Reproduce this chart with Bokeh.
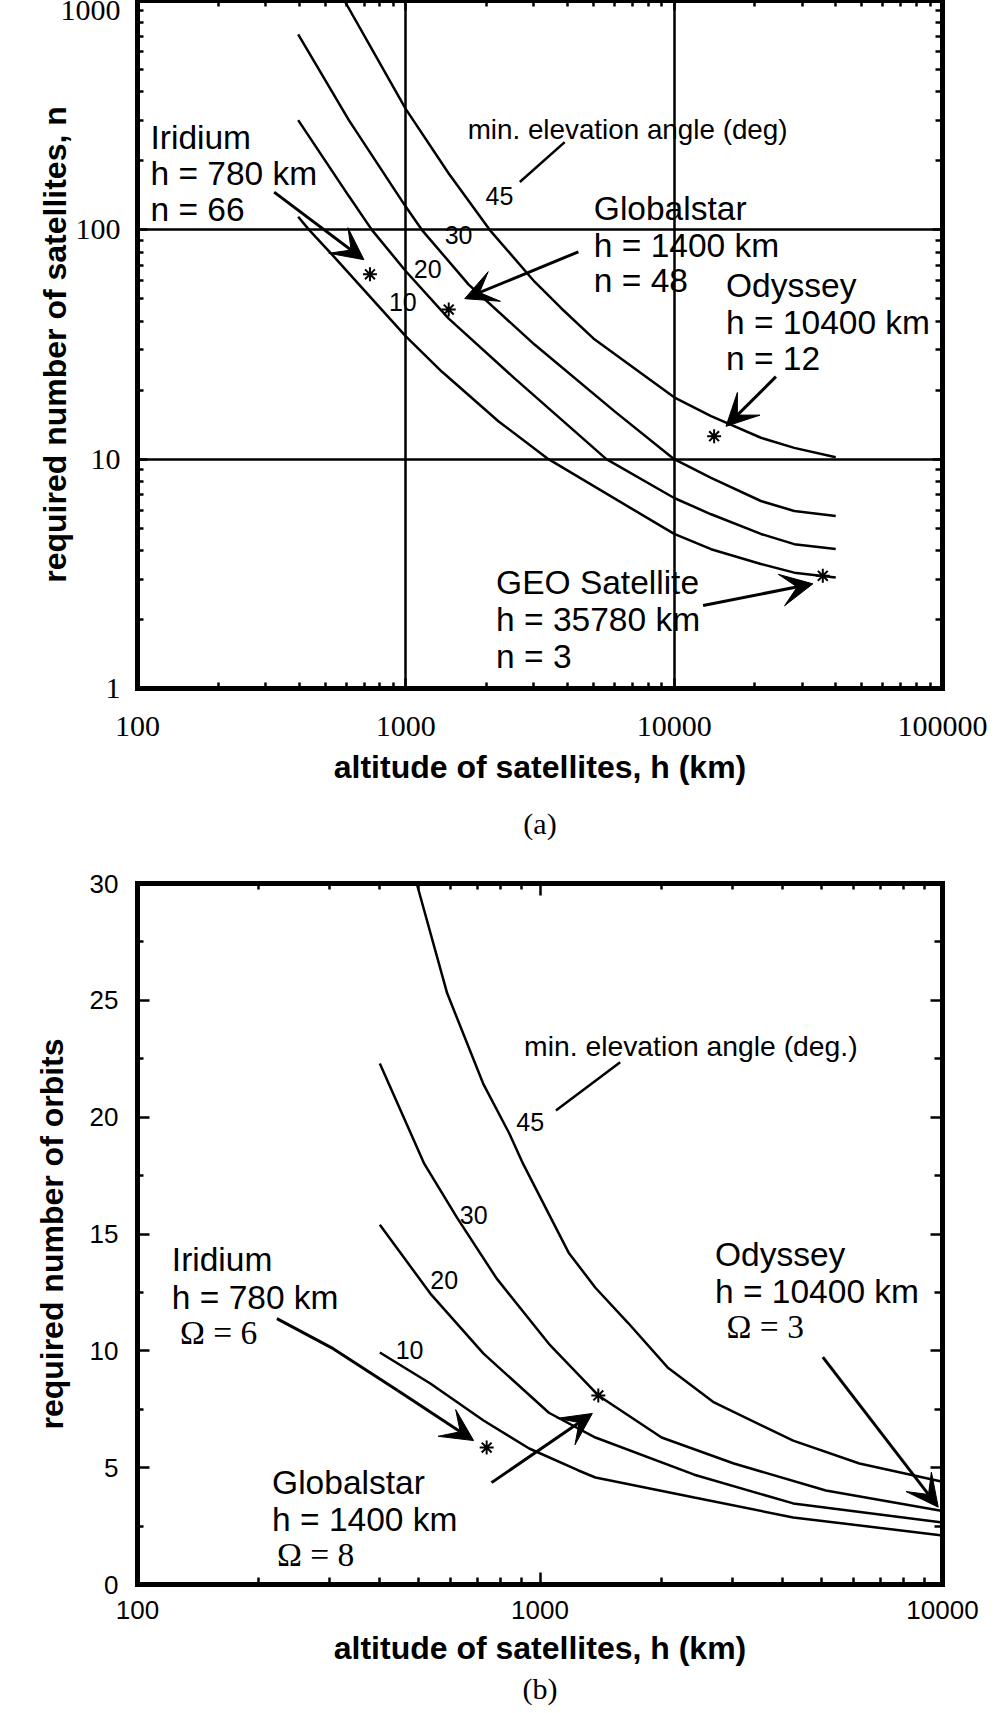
from bokeh.plotting import figure
from bokeh.layouts import column
from bokeh.models import FixedTicker, NumeralTickFormatter, LogAxis, LinearAxis, Arrow, VeeHead
from bokeh.core.properties import value
from bokeh.embed import file_html
from bokeh.resources import INLINE

# ---------------- Panel (a): required number of satellites (log-log) ----------------
a_x_ticks = [100, 1000, 10000, 100000]
a_x_minor = [m * d for d in (100, 1000, 10000) for m in range(2, 10)]
a_y_ticks = [1, 10, 100, 1000]
a_y_minor = [m * d for d in (1, 10, 100) for m in range(2, 10)]

a_h10 = [397, 436, 531, 1000, 1361, 2218, 3401, 10000, 13726, 21050, 28020, 40000]
a_n10 = [114, 100, 78, 34.3, 24.1, 14.6, 10, 4.72, 4.05, 3.49, 3.2, 3.05]
a_h20 = [397, 614, 747, 1000, 1445, 2543, 5590, 10000, 13726, 21050, 28020, 40000]
a_n20 = [301, 140, 100, 66, 41, 22.5, 10, 6.77, 5.75, 4.72, 4.26, 4.06]
a_h30 = [397, 614, 1000, 1147, 1715, 3018, 5984, 10000, 13726, 21050, 28020, 40000]
a_n30 = [711, 300, 126, 100, 57.7, 31.6, 16.2, 10, 8.29, 6.57, 5.94, 5.65]
a_h45 = [590, 1000, 1445, 2053, 3018, 3802, 5000, 10000, 13726, 21050, 28020, 40000]
a_n45 = [1000, 336, 176, 100, 59.4, 45.4, 33.6, 18.6, 15.4, 12.4, 11.2, 10.2]

a_elev_text = ["10", "20", "30", "45"]
a_elev_h = [865, 1071, 1396, 1983]
a_elev_n = [44.9, 62.5, 87.8, 129.7]

a_sat_h = [735, 1445, 14090, 35800]
a_sat_n = [64, 44.9, 12.6, 3.1]

a_names = ["Iridium", "Globalstar", "Odyssey", "GEO Satellite"]
a_alt_text = ["h = 780 km", "h = 1400 km", "h = 10400 km", "h = 35780 km"]
a_num_text = ["n = 66", "n = 48", "n = 12", "n = 3"]
a_block_h = [111.8, 5020, 15610, 2170]
a_name_n = [225.7, 110.5, 51.1, 2.59]
a_alt_n = [157.4, 76.3, 35.4, 1.79]
a_num_n = [110.2, 53.8, 24.6, 1.234]

a_arrow_h0 = [323, 4397, 23950, 12820]
a_arrow_n0 = [146, 80.2, 22.9, 2.30]
a_arrow_h1 = [698, 1657, 15600, 32880]
a_arrow_n1 = [74.1, 50.1, 13.9, 2.86]

a_lead_h = [3909, 2660]
a_lead_n = [241.4, 161.7]

# ---------------- Panel (b): required number of orbits (log-x) ----------------
b_x_ticks = [100, 1000, 10000]
b_x_minor = [m * d for d in (100, 1000) for m in range(2, 10)]
b_y_ticks = [0, 5, 10, 15, 20, 25, 30]
b_y_minor = [2.5, 7.5, 12.5, 17.5, 22.5, 27.5]

b_h10 = [400, 534, 724, 940, 1246, 1373, 2417, 4256, 10000]
b_v10 = [9.93, 8.6, 7.02, 5.82, 4.88, 4.58, 3.72, 2.87, 2.1]
b_h20 = [400, 534, 724, 1052, 1373, 2417, 4256, 10000]
b_v20 = [15.4, 12.45, 9.88, 7.35, 6.29, 4.7, 3.47, 2.65]
b_h30 = [400, 516, 622, 780, 1052, 1396, 2005, 3031, 5130, 10000]
b_v30 = [22.3, 18.0, 15.7, 13.1, 10.3, 8.09, 6.29, 5.18, 4.02, 3.15]
b_h45 = [494, 588, 724, 839, 908, 1178, 1373, 1654, 2075, 2706, 4256, 6217, 10000]
b_v45 = [30.0, 25.3, 21.4, 19.3, 18.0, 14.2, 12.7, 11.2, 9.29, 7.79, 6.16, 5.18, 4.4]

b_elev_text = ["10", "20", "30", "45"]
b_elev_h = [438, 534, 632, 873]
b_elev_v = [9.71, 12.71, 15.49, 19.43]

b_sat_h = [737, 1396]
b_sat_v = [5.86, 8.09]

b_names = ["Iridium", "Globalstar", "Odyssey"]
b_alt_text = ["h = 780 km", "h = 1400 km", "h = 10400 km"]
b_orb_text = ["\u03a9 = 6", "\u03a9 = 8", "\u03a9 = 3"]
b_block_h = [121.7, 216, 2722]
b_orb_h = [127.5, 222, 2908]
b_name_v = [13.44, 3.89, 13.65]
b_alt_v = [11.81, 2.31, 12.08]
b_orb_v = [10.31, 0.81, 10.57]

b_irid_path_h = [222, 303, 443, 684]
b_irid_path_v = [11.38, 10.14, 8.30, 6.16]
b_arrow_h0 = [758, 5043]
b_arrow_v0 = [4.36, 9.73]
b_arrow_h1 = [1349, 9759]
b_arrow_v1 = [7.32, 3.31]

b_lead_h = [1582, 1095]
b_lead_v = [22.35, 20.28]

SANS = "Liberation Sans"
SERIF = "Liberation Serif"


def style_axis(ax, major_in, minor_in, labels=True, font=SERIF, size="30px", standoff=18):
    ax.axis_line_width = 5
    ax.axis_line_color = "black"
    ax.axis_line_cap = "square"
    ax.major_tick_in = major_in
    ax.major_tick_out = 0
    ax.minor_tick_in = minor_in
    ax.minor_tick_out = 0
    ax.major_tick_line_width = 2.5
    ax.minor_tick_line_width = 2.5
    ax.major_tick_line_color = "black"
    ax.minor_tick_line_color = "black"
    if labels:
        ax.major_label_text_font = font
        ax.major_label_text_font_size = size
        ax.major_label_text_color = "black"
        ax.major_label_standoff = standoff
    else:
        ax.major_label_text_font_size = "1px"
        ax.major_label_text_alpha = 0.0
        ax.major_label_standoff = 0


def style_axis_label(ax, text, standoff):
    ax.axis_label = text
    ax.axis_label_text_font = SANS
    ax.axis_label_text_font_style = "bold"
    ax.axis_label_text_font_size = "32px"
    ax.axis_label_text_color = "black"
    ax.axis_label_standoff = standoff


def add_text(p, xs, ys, texts, size, font=SANS):
    p.text(x=xs, y=ys, text=texts, text_font=value(font), text_font_size=f"{size}px",
           text_align="left", text_baseline="alphabetic", text_color="black",
           y_offset=-round(0.33 * size))


def add_arrow(p, x0, y0, x1, y1, size=32):
    p.add_layout(Arrow(end=VeeHead(size=size, fill_color="black", line_color="black", line_width=1),
                       x_start=x0, y_start=y0, x_end=x1, y_end=y1,
                       line_width=3, line_color="black"))


def style_caption(p, text, standoff):
    p.title.text = text
    p.title.align = "center"
    p.title.text_font = SERIF
    p.title.text_font_size = "30px"
    p.title.text_font_style = "normal"
    p.title.text_color = "black"
    p.title.standoff = standoff


# ======================= figure (a) =======================
pa = figure(width=995, height=860, x_axis_type="log", y_axis_type="log",
            x_range=(100, 100000), y_range=(1, 1000), title_location="below",
            output_backend="svg", toolbar_location=None,
            min_border_left=135, min_border_right=53, min_border_top=0, min_border_bottom=172,
            background_fill_color="white", border_fill_color="white", outline_line_color=None)
style_caption(pa, "(a)", 34)

xa = pa.xaxis[0]
xa.ticker = FixedTicker(ticks=a_x_ticks, minor_ticks=a_x_minor)
xa.formatter = NumeralTickFormatter(format="0")
style_axis(xa, 10, 6, font=SERIF, size="30px", standoff=28)
style_axis_label(xa, "altitude of satellites, h (km)", 10)

ya = pa.yaxis[0]
ya.ticker = FixedTicker(ticks=a_y_ticks, minor_ticks=a_y_minor)
ya.formatter = NumeralTickFormatter(format="0")
style_axis(ya, 10, 6, font=SERIF, size="30px", standoff=17)
style_axis_label(ya, "required number of satellites, n", -15)

ta = LogAxis(ticker=FixedTicker(ticks=a_x_ticks, minor_ticks=a_x_minor))
style_axis(ta, 10, 6, labels=False)
pa.add_layout(ta, "above")
ra = LogAxis(ticker=FixedTicker(ticks=a_y_ticks, minor_ticks=a_y_minor))
style_axis(ra, 10, 7, labels=False)
pa.add_layout(ra, "right")

pa.xgrid.ticker = FixedTicker(ticks=a_x_ticks)
pa.ygrid.ticker = FixedTicker(ticks=a_y_ticks)
pa.grid.grid_line_color = "black"
pa.grid.grid_line_width = 2.5
pa.grid.grid_line_alpha = 1.0

for hs, ns in ((a_h10, a_n10), (a_h20, a_n20), (a_h30, a_n30), (a_h45, a_n45)):
    pa.line(hs, ns, line_color="black", line_width=2.5)

pa.line(a_lead_h, a_lead_n, line_color="black", line_width=2.5)
for i in range(len(a_arrow_h0)):
    add_arrow(pa, a_arrow_h0[i], a_arrow_n0[i], a_arrow_h1[i], a_arrow_n1[i])

pa.scatter(a_sat_h, a_sat_n, marker="asterisk", size=14, line_color="black", line_width=2)

add_text(pa, a_block_h, a_name_n, a_names, 33.5)
add_text(pa, a_block_h, a_alt_n, a_alt_text, 33.5)
add_text(pa, a_block_h, a_num_n, a_num_text, 33.5)
add_text(pa, a_elev_h, a_elev_n, a_elev_text, 25)
add_text(pa, [1700], [251], ["min. elevation angle (deg)"], 27.8)

# ======================= figure (b) =======================
pb = figure(width=995, height=853, x_axis_type="log",
            x_range=(100, 10000), y_range=(0, 30), title_location="below",
            output_backend="svg", toolbar_location=None,
            min_border_left=137, min_border_right=44, min_border_top=23, min_border_bottom=129,
            background_fill_color="white", border_fill_color="white", outline_line_color=None)
style_caption(pb, "(b)", 2)
pb.grid.visible = False

xb = pb.xaxis[0]
xb.ticker = FixedTicker(ticks=b_x_ticks, minor_ticks=b_x_minor)
xb.formatter = NumeralTickFormatter(format="0")
style_axis(xb, 12, 7, font=SANS, size="26px", standoff=16)
style_axis_label(xb, "altitude of satellites, h (km)", 8)

yb = pb.yaxis[0]
yb.ticker = FixedTicker(ticks=b_y_ticks, minor_ticks=b_y_minor)
style_axis(yb, 12, 6, font=SANS, size="26px", standoff=19)
style_axis_label(yb, "required number of orbits", 17)

tb = LogAxis(ticker=FixedTicker(ticks=b_x_ticks, minor_ticks=b_x_minor))
style_axis(tb, 12, 6, labels=False)
pb.add_layout(tb, "above")
rb = LinearAxis(ticker=FixedTicker(ticks=b_y_ticks, minor_ticks=b_y_minor))
style_axis(rb, 12, 8, labels=False)
pb.add_layout(rb, "right")

for hs, vs in ((b_h10, b_v10), (b_h20, b_v20), (b_h30, b_v30), (b_h45, b_v45)):
    pb.line(hs, vs, line_color="black", line_width=2.5)

pb.line(b_lead_h, b_lead_v, line_color="black", line_width=2.5)
pb.line(b_irid_path_h[:-1], b_irid_path_v[:-1], line_color="black", line_width=3)
add_arrow(pb, b_irid_path_h[-2], b_irid_path_v[-2], b_irid_path_h[-1], b_irid_path_v[-1])
for i in range(len(b_arrow_h0)):
    add_arrow(pb, b_arrow_h0[i], b_arrow_v0[i], b_arrow_h1[i], b_arrow_v1[i])

pb.scatter(b_sat_h, b_sat_v, marker="asterisk", size=14, line_color="black", line_width=2)

add_text(pb, b_block_h, b_name_v, b_names, 33.5)
add_text(pb, b_block_h, b_alt_v, b_alt_text, 33.5)
add_text(pb, b_orb_h, b_orb_v, b_orb_text, 33.5, font=SERIF)
add_text(pb, b_elev_h, b_elev_v, b_elev_text, 25)
add_text(pb, [913], [22.68], ["min. elevation angle (deg.)"], 28.3)

layout = column(pa, pb, spacing=0)
open("out.html", "w").write(file_html(layout, INLINE))
